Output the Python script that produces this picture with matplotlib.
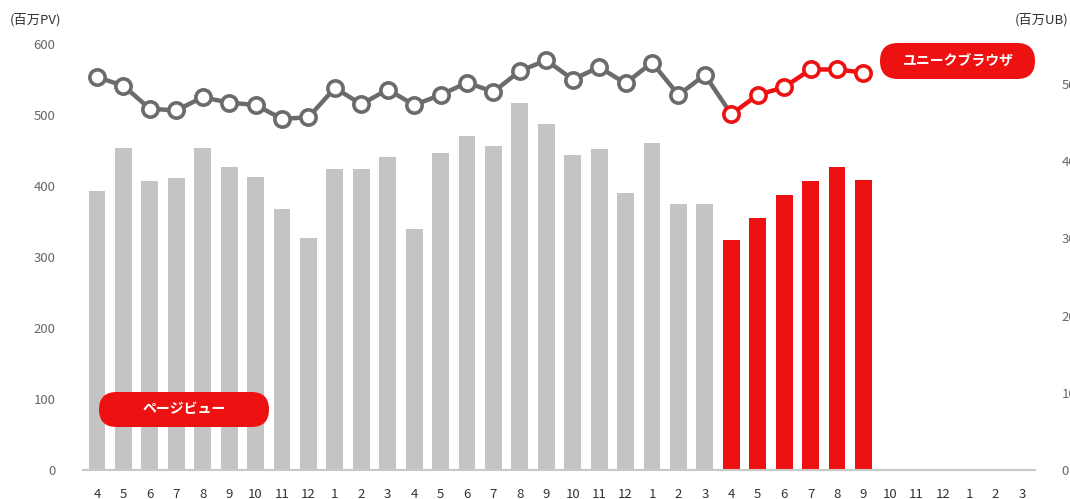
import matplotlib
matplotlib.use("Agg")
import matplotlib.pyplot as plt
from matplotlib.patches import FancyBboxPatch
from matplotlib.transforms import IdentityTransform

plt.rcParams['font.family'] = ['Noto Sans CJK JP', 'DejaVu Sans']

months = ['4', '5', '6', '7', '8', '9', '10', '11', '12', '1', '2', '3'] * 3
pv_past = [393, 453, 407, 411, 454, 427, 413, 367, 327, 424, 424, 441,
           340, 446, 470, 456, 517, 487, 443, 452, 390, 460, 374, 375]
pv_now = [324, 355, 388, 407, 427, 409]
ub_past = [509, 498, 468, 466, 483, 476, 473, 455, 457, 495, 474, 493,
           473, 486, 502, 490, 517, 531, 506, 522, 501, 528, 486, 512]
ub_now = [461, 486, 496, 519, 519, 515]

GRAY_BAR = '#c4c4c4'
RED = '#ee1111'
GRAY_LINE = '#6b6b6b'
TICK_COL = '#666666'

W, H = 1070, 499
fig = plt.figure(figsize=(W / 100, H / 100), dpi=100)
ax = fig.add_axes([83 / W, (H - 470) / H, (1035 - 83) / W, 426 / H])
ax2 = ax.twinx()

n_past = len(pv_past)
x_past = list(range(n_past))
x_now = list(range(n_past, n_past + len(pv_now)))

ax.bar(x_past, pv_past, width=0.64, color=GRAY_BAR, zorder=2)
ax.bar(x_now, pv_now, width=0.64, color=RED, zorder=2)

ax.set_xlim(-0.53, 35.49)
ax.set_ylim(0, 600)
ax.set_yticks([0, 100, 200, 300, 400, 500, 600])
ax.set_xticks(range(len(months)))
ax.set_xticklabels(months)

for a in (ax, ax2):
    for s in ('top', 'left', 'right', 'bottom'):
        a.spines[s].set_visible(False)
ax.spines['bottom'].set_visible(True)
ax.spines['bottom'].set_color('#c8c8c8')
ax.spines['bottom'].set_linewidth(1.5)

ax.tick_params(axis='y', length=0, pad=20, labelsize=9.5, labelcolor=TICK_COL)
ax.tick_params(axis='x', length=0, pad=13, labelsize=9.5, labelcolor='#333333')

# line series
ax2.set_ylim(0, 552)
ax2.set_yticks([0, 100, 200, 300, 400, 500])
ax2.tick_params(axis='y', length=0, pad=19, labelsize=9.5, labelcolor=TICK_COL)

ax2.plot(x_past + [x_now[0]], ub_past + [ub_now[0]], color=GRAY_LINE, lw=3.2, zorder=3,
         solid_capstyle='round')
ax2.plot(x_past, ub_past, linestyle='none', marker='o', ms=11, mfc='white',
         mec=GRAY_LINE, mew=2.6, zorder=4)
ax2.plot(x_now, ub_now, color=RED, lw=3.2, marker='o', ms=11, mfc='white',
         mec=RED, mew=2.6, zorder=4)

# headers
fig.text(10 / W, 1 - 20 / H, '(百万PV)', fontsize=9.5, color='#333333', va='center', ha='left')
fig.text(1068 / W, 1 - 20 / H, '(百万UB)', fontsize=9.5, color='#333333', va='center', ha='right')

# pill labels
def pill(x0, y0, x1, y1, label):
    w, h = x1 - x0, y1 - y0
    p = FancyBboxPatch((x0, H - y1), w, h,
                       boxstyle=f"round,pad=0,rounding_size={h / 2}",
                       transform=IdentityTransform(), facecolor=RED,
                       edgecolor='none', zorder=10)
    fig.add_artist(p)
    fig.text((x0 + x1) / 2 / W, 1 - (y0 + y1) / 2 / H, label, color='white',
             fontsize=10, fontweight='bold', ha='center', va='center', zorder=11)

pill(880, 43, 1035, 79, 'ユニークブラウザ')
pill(99, 392, 269, 427, 'ページビュー')

fig.savefig('out.png', dpi=100)
